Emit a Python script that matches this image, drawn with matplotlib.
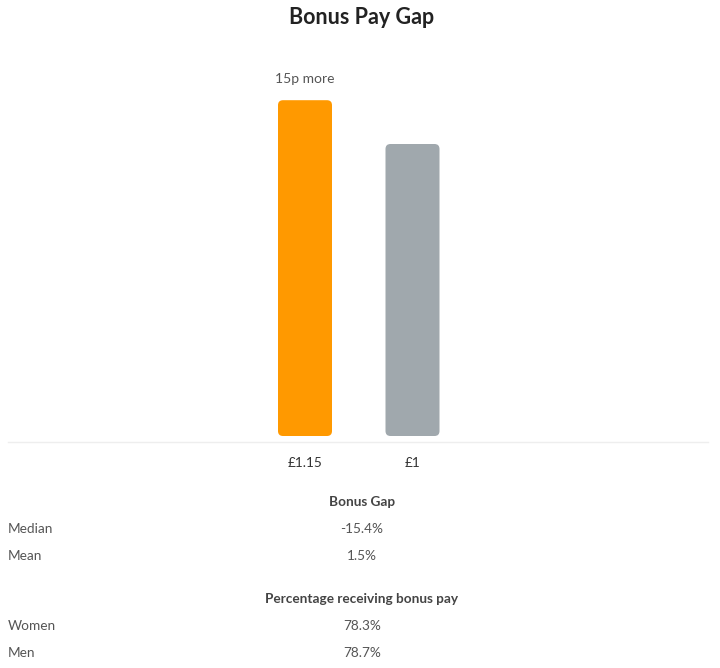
import matplotlib.pyplot as plt
from matplotlib.patches import FancyBboxPatch

plt.rcParams['font.family'] = ['Lato', 'DejaVu Sans']

# data
categories = ['£1.15', '£1']
values = [1.15, 1.0]
colors = ['#FF9900', '#A0A8AD']
bar_note = '15p more'

gap_rows = ['Median', 'Mean']
gap_values = ['-15.4%', '1.5%']
receiving_rows = ['Women', 'Men']
receiving_values = ['78.3%', '78.7%']

W, H = 720, 668
fig = plt.figure(figsize=(W / 100, H / 100), dpi=100)

# axes placed in pixels: x 8..708, y 60..442 (from top)
ax = fig.add_axes([8 / W, (H - 442) / H, 700 / W, 382 / H])
px_x = 107.5   # px per x unit
px_y = 292.0   # px per y unit
ax.set_xlim(-(305 - 8) / px_x, (708 - 305) / px_x)
ax.set_ylim(-6 / px_y, (436 - 60) / px_y)
for s in ['top', 'right', 'left']:
    ax.spines[s].set_visible(False)
ax.spines['bottom'].set_color('#EEEEEE')
ax.spines['bottom'].set_linewidth(1)
ax.set_yticks([])
ax.set_xticks([])

bars = ax.bar(range(len(values)), values, width=54 / px_x, color=colors)
for b in bars:
    b.set_visible(False)
    ax.add_patch(FancyBboxPatch((b.get_x(), b.get_y()), b.get_width(), b.get_height(),
                                boxstyle='round,pad=0,rounding_size=%f' % (5 / px_x),
                                mutation_aspect=px_x / px_y,
                                facecolor=b.get_facecolor(), edgecolor='none'))

ax.annotate(bar_note, (0, values[0]), xytext=(0, 11), textcoords='offset points',
            ha='center', va='bottom', fontsize=10, color='#555555')

for i, lab in enumerate(categories):
    fig.text((8 + (i * px_x + 305 - 8)) / W, 1 - 463 / H, lab, ha='center', va='center',
             fontsize=9.8, color='#333333')

fig.text(362 / W, 1 - 18 / H, 'Bonus Pay Gap', ha='center', va='center',
         fontsize=15.5, fontweight='bold', color='#222222')

def section(title, y0, rows, vals):
    fig.text(362 / W, 1 - y0 / H, title, ha='center', va='center',
             fontsize=9.8, fontweight='bold', color='#444444')
    for k, (r, v) in enumerate(zip(rows, vals)):
        y = y0 + 27 * (k + 1)
        fig.text(8 / W, 1 - y / H, r, ha='left', va='center', fontsize=9.8, color='#555555')
        fig.text(362 / W, 1 - y / H, v, ha='center', va='center', fontsize=9.8, color='#555555')

section('Bonus Gap', 502, gap_rows, gap_values)
section('Percentage receiving bonus pay', 599, receiving_rows, receiving_values)

fig.savefig('out.png', dpi=100, facecolor='white')
